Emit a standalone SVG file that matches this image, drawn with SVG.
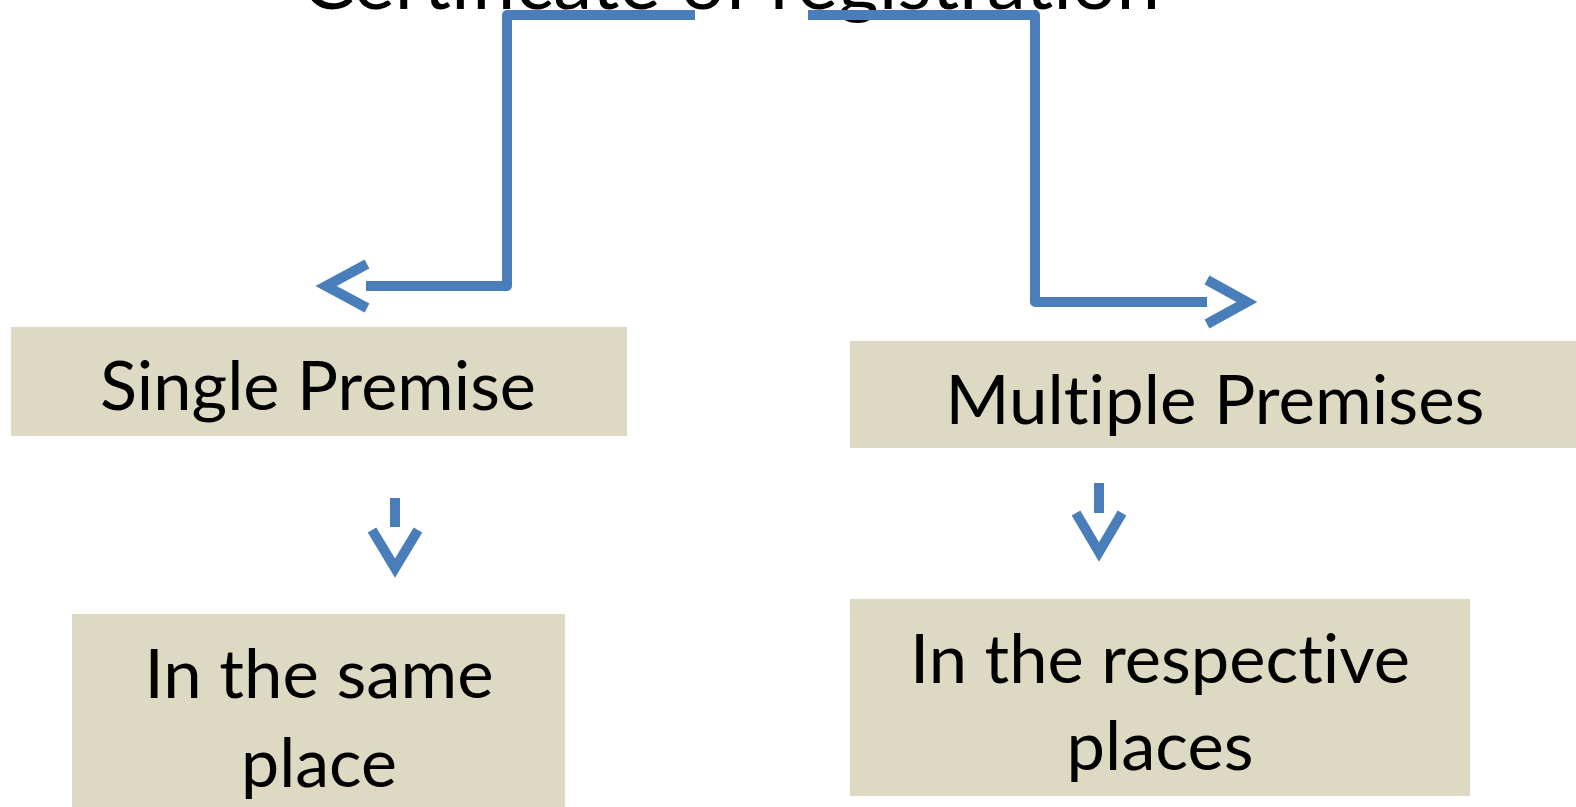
<svg xmlns="http://www.w3.org/2000/svg" width="1576" height="807" viewBox="0 0 1576 807">
<style>
.box{fill:#DDD9C3}
.t{font-family:Lato,"Open Sans","Liberation Sans",sans-serif;fill:#000;text-anchor:middle;font-variant-ligatures:none;font-feature-settings:"liga" 0}
.n{font-size:67px}
.ttl{font-size:76px}
.c{fill:none;stroke:#4A7EBB;stroke-width:10;stroke-linejoin:round}
.a{fill:none;stroke:#4A7EBB;stroke-width:10;stroke-linejoin:miter}
</style>
<rect width="1576" height="807" fill="#fff"/>
<g id="title">
<text class="t ttl" x="731" y="9" textLength="858" lengthAdjust="spacingAndGlyphs">Certificate of registration</text>
</g>
<g id="single">
<rect class="box" x="11" y="327" width="616" height="109"/>
<text class="t n" x="318" y="410" textLength="436" lengthAdjust="spacingAndGlyphs">Single Premise</text>
</g>
<g id="multiple">
<rect class="box" x="850" y="341" width="726" height="107"/>
<text class="t n" x="1215" y="424" textLength="539" lengthAdjust="spacingAndGlyphs">Multiple Premises</text>
</g>
<g id="same">
<rect class="box" x="72" y="614" width="493" height="193"/>
<text class="t n" x="319" y="698" textLength="349" lengthAdjust="spacingAndGlyphs">In the same</text>
<text class="t n" x="319" y="787" textLength="156" lengthAdjust="spacingAndGlyphs">place</text>
</g>
<g id="respective">
<rect class="box" x="850" y="599" width="620" height="197"/>
<text class="t n" x="1160" y="683" textLength="500" lengthAdjust="spacingAndGlyphs">In the respective</text>
<text class="t n" x="1160" y="770" textLength="187" lengthAdjust="spacingAndGlyphs">places</text>
</g>
<g id="connectors">
<path class="c" d="M695,15 H507 V286 H366"/>
<polyline class="a" points="367,264 326,286 367,308"/>
<path class="c" d="M808,15 H1035 V302 H1207"/>
<polyline class="a" points="1207,280 1247,302 1207,324"/>
<line class="c" x1="395" y1="498" x2="395" y2="527" stroke-width="11"/>
<polyline class="a" points="372,530 395,568 418,530"/>
<line class="c" x1="1099" y1="483" x2="1099" y2="513" stroke-width="11"/>
<polyline class="a" points="1076,513 1099,552 1122,513"/>
</g>
</svg>
